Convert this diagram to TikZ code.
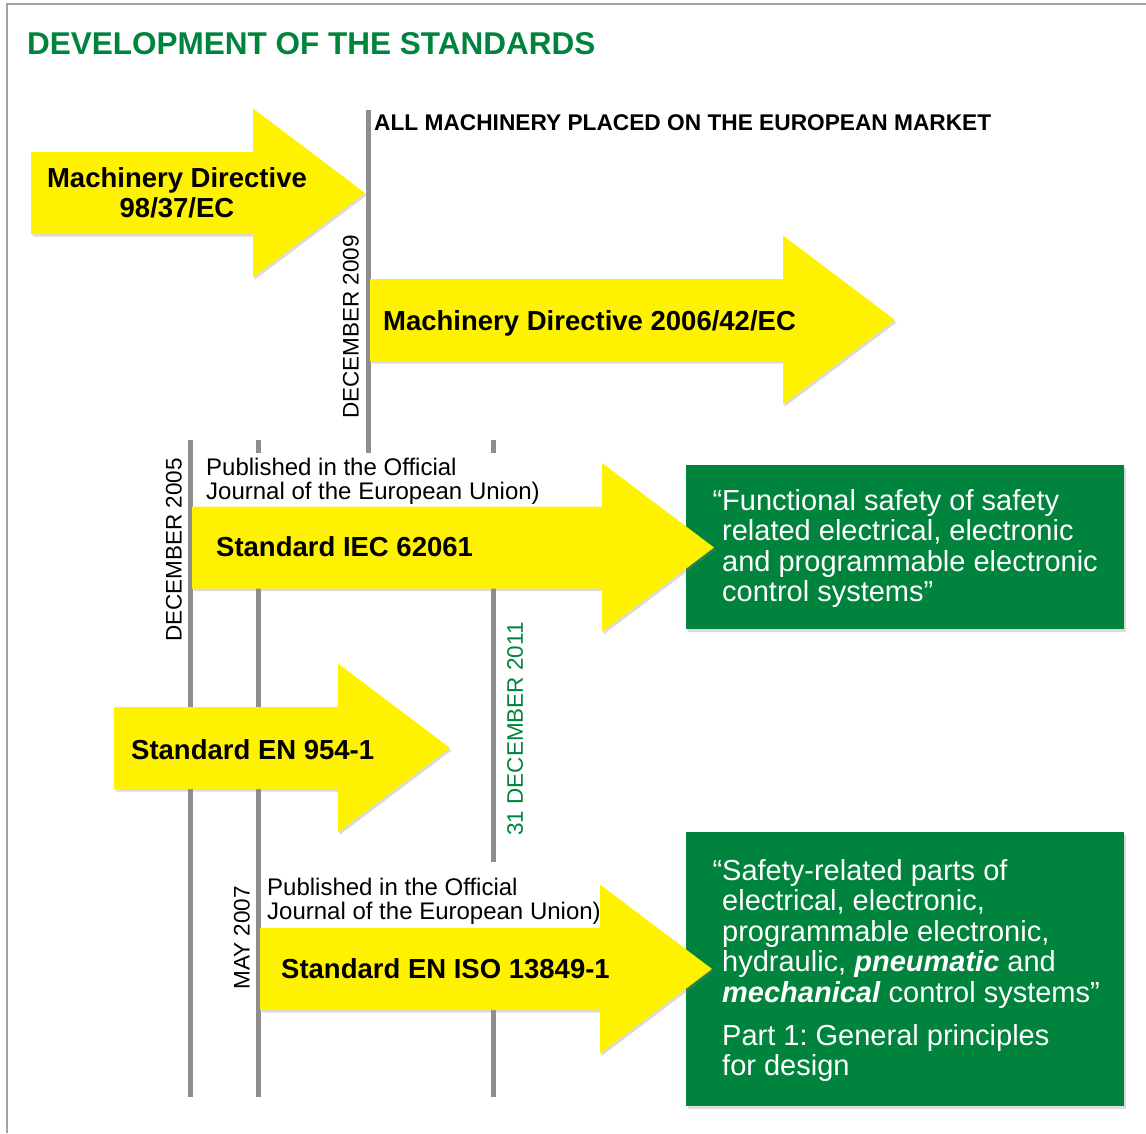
\documentclass[tikz,border=0pt]{standalone}
\usepackage{fontspec}
\setmainfont{Liberation Sans}
\usetikzlibrary{shadows}
\definecolor{ygold}{HTML}{FFF200}
\definecolor{sgreen}{HTML}{00843D}
\definecolor{tline}{HTML}{8E8E8E}
\definecolor{framegray}{HTML}{A3A3A3}
\newcommand\yarrow[4]{% left x, centre y, head base x, tip x
  \fill[yarr] (#1,#2-41) -- (#3,#2-41) -- (#3,#2-84.5) -- (#4,#2) -- (#3,#2+84.5) -- (#3,#2+41) -- (#1,#2+41) -- cycle;}
\frenchspacing
\begin{document}
\begin{tikzpicture}[x=1pt,y=-1pt,
  tl/.style={draw=tline, line width=5pt},
  softshadow/.style={drop shadow={opacity=0.28, shadow xshift=1.5pt, shadow yshift=-2.5pt}},
  yarr/.style={fill=ygold, softshadow},
  gbox/.style={fill=sgreen, softshadow},
  lbl/.style={font=\fontsize{27.5}{30}\selectfont\bfseries, anchor=base west, inner sep=0pt},
  pub/.style={font=\fontsize{24}{24}\selectfont, anchor=base west, inner sep=0pt},
  dt/.style={font=\fontsize{22.5}{22.5}\selectfont, rotate=90, inner sep=0pt},
  gt/.style={font=\fontsize{29}{30}\selectfont, text=white, anchor=base west, inner sep=0pt},
]
\useasboundingbox (0,0) rectangle (1146,1133);
\fill[white] (0,0) rectangle (1146,1133);
% frame
\draw[framegray, line width=2.5pt] (7,1133) -- (7,4) -- (1146,4);

% timeline lines
\draw[tl] (368,110) -- (368,453);
\draw[tl] (190,440) -- (190,1097);
\draw[tl] (258,440) -- (258,453);
\draw[tl] (258,560) -- (258,1097);
\draw[tl] (493,440) -- (493,453);
\draw[tl] (493,560) -- (493,862);
\draw[tl] (493,990) -- (493,1097);

% green boxes
\fill[gbox] (686,465) rectangle (1124,629);
\fill[gbox] (686,832) rectangle (1124,1106);

% yellow arrows
\yarrow{31}{193}{253}{365}
\yarrow{370}{320}{783}{895}
\yarrow{192}{547.5}{602}{714}
\yarrow{114}{748}{338}{450}
\yarrow{260}{969}{600}{712}

% title and headings
\node[anchor=base west, inner sep=0pt, text=sgreen, font=\fontsize{31.5}{32}\selectfont\bfseries] (title) at (27,54) {DEVELOPMENT OF THE STANDARDS};
\node[anchor=base west, inner sep=0pt, font=\fontsize{22.7}{23}\selectfont\bfseries] (market) at (374,130) {ALL MACHINERY PLACED ON THE EUROPEAN MARKET};

% arrow labels
\node[lbl, anchor=base] (md1a) at (177,187) {Machinery Directive};
\node[lbl, anchor=base] (md1b) at (177,217) {98/37/EC};
\node[lbl] (md2) at (383,330) {Machinery Directive 2006/42/EC};
\node[lbl] (iec) at (216,556) {Standard IEC 62061};
\node[lbl] (en954) at (131,759) {Standard EN 954-1};
\node[lbl] (iso) at (281,978) {Standard EN ISO 13849-1};

% published notes
\node[pub] (pub1a) at (206,475) {Published in the Official};
\node[pub] (pub1b) at (206,499) {Journal of the European Union)};
\node[pub] (pub2a) at (267,895) {Published in the Official};
\node[pub] (pub2b) at (267,919) {Journal of the European Union)};

% dates
\node[dt] (d2009) at (351,327) {DECEMBER 2009};
\node[dt] (d2005) at (174,550) {DECEMBER 2005};
\node[dt, text=sgreen] (d2011) at (515,729) {31 DECEMBER 2011};
\node[dt] (d2007) at (242,938) {MAY 2007};

% green box 1 text
\node[gt] (g1a) at (722,510) {\llap{“}Functional safety of safety};
\node[gt] (g1b) at (722,540.5) {related electrical, electronic};
\node[gt] (g1c) at (722,571) {and programmable electronic};
\node[gt] (g1d) at (722,601.5) {control systems”};

% green box 2 text
\node[gt] (g2a) at (722,880) {\llap{“}Safety-related parts of};
\node[gt] (g2b) at (722,910.5) {electrical, electronic,};
\node[gt] (g2c) at (722,941) {programmable electronic,};
\node[gt] (g2d) at (722,971.5) {hydraulic, \textbf{\textit{pneumatic}} and};
\node[gt] (g2e) at (722,1002) {\textbf{\textit{mechanical}} control systems”};
\node[gt] (g2f) at (722,1045) {Part 1: General principles};
\node[gt] (g2g) at (722,1075.5) {for design};
\end{tikzpicture}
\end{document}
